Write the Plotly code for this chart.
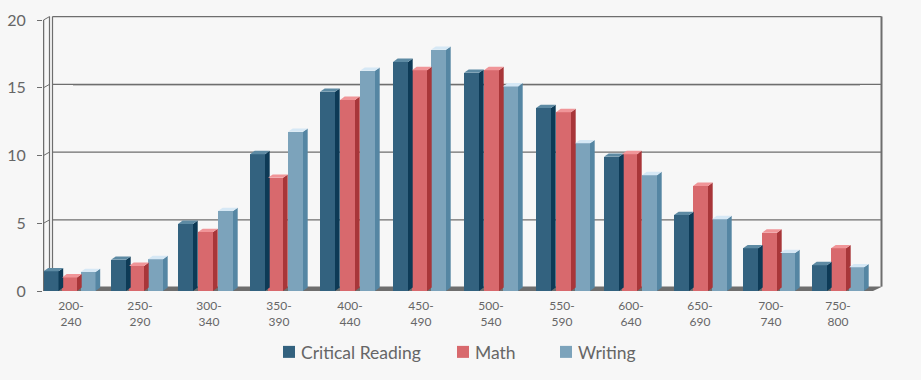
import plotly.graph_objects as go

# ---- data ----
categories = ["200-<br>240", "250-<br>290", "300-<br>340", "350-<br>390", "400-<br>440", "450-<br>490",
              "500-<br>540", "550-<br>590", "600-<br>640", "650-<br>690", "700-<br>740", "750-<br>800"]
critical_reading = [1.45, 2.3, 4.95, 10.1, 14.7, 16.9, 16.1, 13.5, 9.9, 5.6, 3.15, 1.9]
math = [1.0, 1.85, 4.35, 8.35, 14.1, 16.3, 16.3, 13.2, 10.1, 7.75, 4.3, 3.15]
writing = [1.4, 2.35, 5.9, 11.75, 16.25, 17.8, 15.1, 10.9, 8.55, 5.3, 2.8, 1.75]
y_ticks = [0, 5, 10, 15, 20]

# ---- horizontal layout of the groups, in x-axis units ----
label_pos = [71, 140, 209, 279, 350, 421, 491, 562, 631, 700, 771, 838]
cr_left = [43.5, 111, 178, 250, 320, 393, 464, 536, 604, 674, 743, 812]
ma_left = [62, 129, 198, 268, 340, 412, 484, 556, 622, 693, 762, 831]
wr_left = [80.5, 148, 218, 288, 360, 431, 503, 575, 642, 712, 780, 849]

BAR_W = 15
DX, DV = 4.7, 0.25          # bar depth
WALL_DV = 0.33              # chart depth at the floor
GRID_DV = 0.25              # chart depth at the grid lines
PX = 13.55                  # px per y unit
TOP = 291 / PX

BG = "#f7f7f7"
INK = "#666666"
LINE = "#6e6e6e"
FONT = "Lato, 'Noto Sans', sans-serif"

series = [
    ("Critical Reading", critical_reading, cr_left, "#33627f", "#0d3a56", "#5d8aa3"),
    ("Math", math, ma_left, "#d8696d", "#a83639", "#f09598"),
    ("Writing", writing, wr_left, "#7ca3bb", "#5586a3", "#d6e8f5"),
]

fig = go.Figure()
legend_ids = ["legend", "legend2", "legend3"]

for (name, vals, lefts, front, side, cap), lid in zip(series, legend_ids):
    fig.add_trace(go.Bar(
        x=[l + BAR_W / 2 for l in lefts], y=vals, width=BAR_W, name=name,
        marker=dict(color=front, line=dict(width=0)), legend=lid, showlegend=True,
    ))
for name, vals, lefts, front, side, cap in series:
    for l, v in zip(lefts, vals):
        r = l + BAR_W
        fig.add_trace(go.Scatter(
            x=[r, r + DX, r + DX, r, r], y=[0, DV, v + DV, v, 0], mode="lines", fill="toself",
            fillcolor=side, line=dict(width=0), showlegend=False, hoverinfo="skip"))
        fig.add_trace(go.Scatter(
            x=[l, l + DX, r + DX, r, l], y=[v, v + DV, v + DV, v, v], mode="lines", fill="toself",
            fillcolor=cap, line=dict(width=0), showlegend=False, hoverinfo="skip"))

shapes = []
def seg(x0, y0, x1, y1, color=LINE, w=1.2):
    shapes.append(dict(type="line", xref="x", yref="y", x0=x0, y0=y0, x1=x1, y1=y1,
                       layer="below", line=dict(color=color, width=w)))

AX_L, BACK_L, BACK_R = 43.5, 52.5, 881.5
FLOOR_FRONT_R = 873
# floor
shapes.append(dict(type="path", xref="x", yref="y", layer="below", line=dict(width=0), fillcolor=LINE,
                   path=f"M {AX_L} 0 L {BACK_L} {WALL_DV} L {BACK_R + 1} {WALL_DV} L {FLOOR_FRONT_R} 0 Z"))
# walls
seg(AX_L, 0, AX_L, 20, w=1.5)
seg(49.5, 0.1, 49.5, 20 + GRID_DV, w=1.2)
seg(BACK_L, WALL_DV, BACK_L, 20 + GRID_DV)
seg(BACK_R, WALL_DV, BACK_R, 20 + GRID_DV, w=2)
# faint shadow under the 15 line
seg(73, 15 + GRID_DV - 0.08, 860, 15 + GRID_DV - 0.08, color="#c0c0c0", w=1)
# grid and diagonal ticks
for t in y_ticks:
    if t:
        seg(BACK_L, t + GRID_DV, BACK_R, t + GRID_DV)
        seg(AX_L, t, 49.5, t + GRID_DV, w=1)
    else:
        seg(AX_L, 0, BACK_L, WALL_DV, w=1)

fig.update_layout(
    width=921, height=380, autosize=False,
    paper_bgcolor=BG, plot_bgcolor=BG,
    margin=dict(l=43, r=0, t=0, b=89),
    barmode="overlay", bargap=0,
    font=dict(family=FONT, color=INK),
    shapes=shapes,
    xaxis=dict(range=[43, 921], showgrid=False, zeroline=False, showline=False, ticks="",
               tickmode="array", tickvals=label_pos, ticktext=categories,
               tickfont=dict(size=12, color=INK, family=FONT), ticklabelstandoff=6),
    yaxis=dict(range=[0, TOP], showgrid=False, zeroline=False, showline=False,
               tickmode="array", tickvals=y_ticks, ticks="outside", ticklen=5, tickwidth=1,
               tickcolor=LINE, tickfont=dict(size=16, color=INK, family=FONT), ticklabelstandoff=8),
)

# one legend box per series so each entry sits where the reference has it
plot_w, plot_h = 921 - 43, 291
for lid, px_x in zip(legend_ids, [269, 443, 546]):
    fig.update_layout({lid: dict(
        x=(px_x - 43) / plot_w, y=(plot_h - 334) / plot_h, xanchor="left", yanchor="top",
        bgcolor="rgba(0,0,0,0)", borderwidth=0, orientation="h",
        font=dict(size=17.5, color=INK, family=FONT))})

fig.write_html("out.html", config=dict(displayModeBar=False))

# page with no body margin; legend labels pulled next to their swatches
with open("out.html", encoding="utf-8") as f:
    page = f.read()
page = page.replace("<head>", "<head><style>.legendtext,.legend2text,.legend3text{transform:translateX(-8px);}</style>", 1)
page = page.replace("<body>", '<body style="margin:0;overflow:hidden;background:#f7f7f7">', 1)
with open("out.html", "w", encoding="utf-8") as f:
    f.write(page)
